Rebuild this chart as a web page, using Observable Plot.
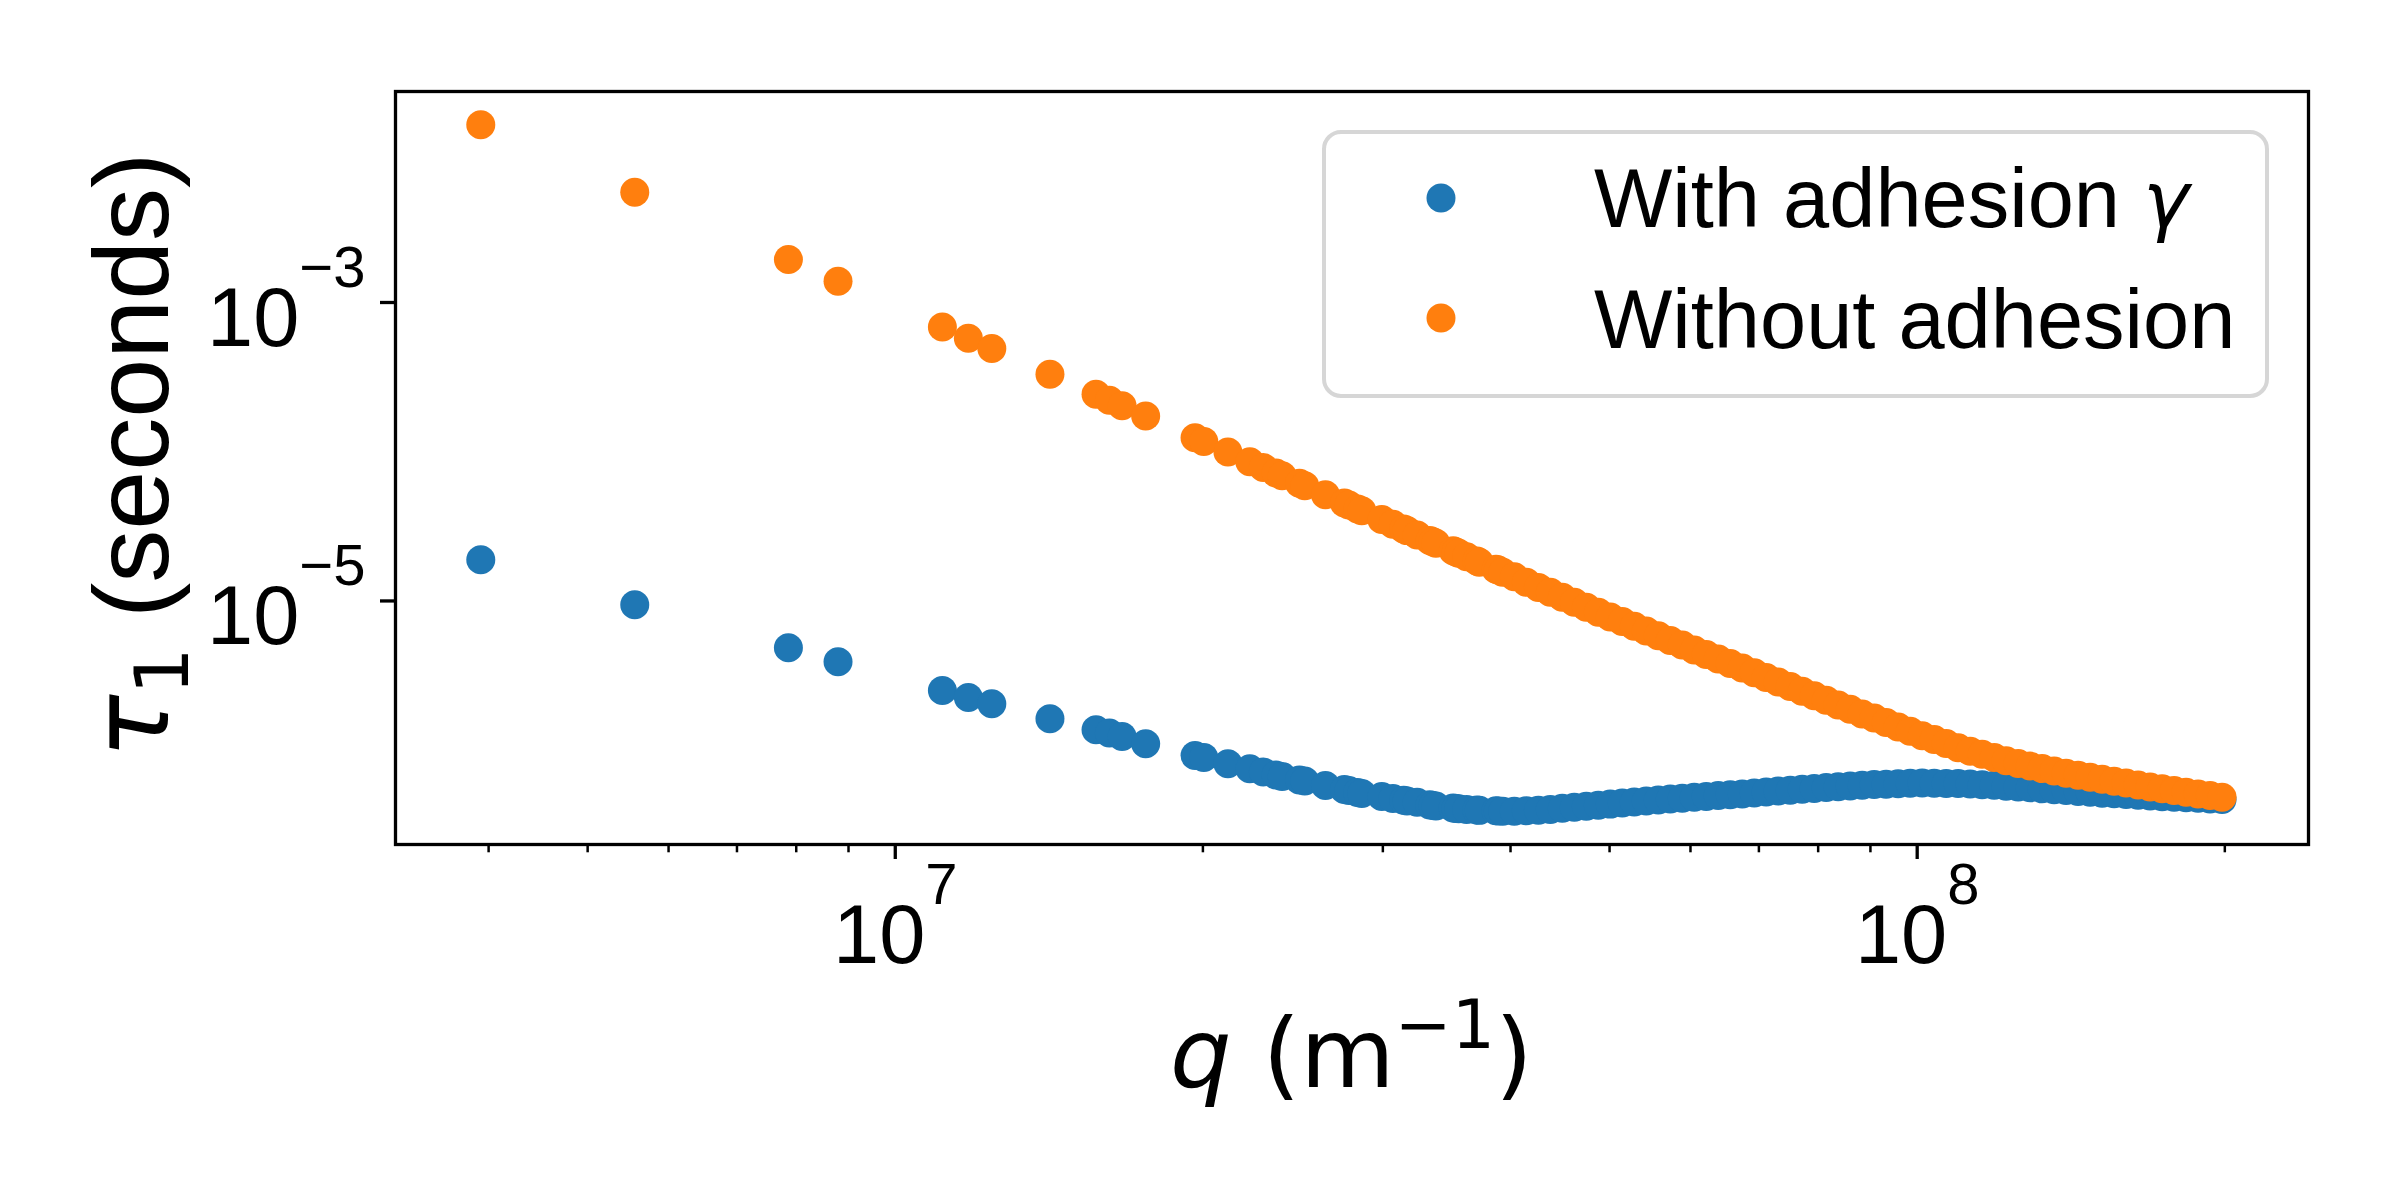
<!DOCTYPE html>
<html>
<head>
<meta charset="utf-8">
<script src="https://cdn.jsdelivr.net/npm/d3@7"></script>
<script src="https://cdn.jsdelivr.net/npm/@observablehq/plot@0.6"></script>
<style>
  html, body { margin: 0; padding: 0; background: #ffffff; }
  svg { display: block; }
</style>
</head>
<body>
<div id="chart"></div>
<script>
// ---- data (q in units of 1e6 m^-1, tau in seconds) ----
const qMega = [3.93, 5.56, 7.86, 8.79, 11.12, 11.79, 12.43, 14.17, 15.72, 16.20, 16.67, 17.58, 19.65, 20.04, 21.16, 22.23, 22.92, 23.58, 23.91, 24.86, 25.16, 26.36, 27.51, 27.79, 28.34, 28.61, 29.93, 30.69, 31.44, 31.68, 32.41, 33.35, 33.58, 33.81, 35.15, 35.37, 35.59, 36.23, 37.08, 37.28, 38.71, 38.91, 39.30,
  40.34, 41.45, 42.59, 43.75, 44.95, 46.18, 47.45, 48.75, 50.08, 51.45, 52.86, 54.31, 55.80, 57.33, 58.90, 60.51, 62.17, 63.87, 65.62, 67.42, 69.27, 71.16, 73.11, 75.12, 77.17, 79.29, 81.46, 83.69, 85.98, 88.34, 90.76, 93.24, 95.80, 98.43, 101.13, 103.90, 106.75, 109.67, 112.68, 115.76, 118.94, 122.19, 125.55, 128.99, 132.52, 136.15, 139.88, 143.71, 147.65, 151.70, 155.85, 160.12, 164.51, 169.01, 173.65, 178.40, 183.29, 188.31, 193.46, 198.76];

const tauWith = [1.888e-5, 9.43e-6, 4.86e-6, 3.91e-6, 2.514e-6, 2.257e-6, 2.048e-6, 1.627e-6, 1.369e-6, 1.302e-6, 1.236e-6, 1.104e-6, 9.22e-7, 8.94e-7, 8.11e-7, 7.51e-7, 7.15e-7, 6.83e-7, 6.67e-7, 6.32e-7, 6.22e-7, 5.80e-7, 5.46e-7, 5.37e-7, 5.21e-7, 5.13e-7, 4.90e-7, 4.75e-7, 4.61e-7, 4.57e-7, 4.47e-7, 4.30e-7, 4.26e-7, 4.23e-7, 4.10e-7, 4.07e-7, 4.05e-7, 4.01e-7, 3.97e-7, 3.95e-7, 3.92e-7, 3.91e-7, 3.90e-7,
  3.90e-7, 3.92e-7, 3.96e-7, 4.01e-7, 4.08e-7, 4.14e-7, 4.21e-7, 4.28e-7, 4.35e-7, 4.42e-7,
  4.50e-7, 4.57e-7, 4.63e-7, 4.70e-7, 4.77e-7, 4.84e-7, 4.90e-7, 4.96e-7, 5.03e-7, 5.09e-7,
  5.17e-7, 5.24e-7, 5.32e-7, 5.39e-7, 5.47e-7, 5.54e-7, 5.63e-7, 5.69e-7, 5.76e-7, 5.82e-7,
  5.89e-7, 5.92e-7, 5.96e-7, 6.00e-7, 6.03e-7, 6.01e-7, 5.99e-7, 5.97e-7, 5.94e-7, 5.87e-7,
  5.81e-7, 5.73e-7, 5.66e-7, 5.59e-7, 5.51e-7, 5.43e-7, 5.37e-7, 5.29e-7, 5.23e-7, 5.15e-7,
  5.10e-7, 5.05e-7, 4.98e-7, 4.93e-7, 4.88e-7, 4.84e-7, 4.80e-7, 4.76e-7, 4.71e-7, 4.67e-7];

const tauWithout = [1.552e-2, 5.49e-3, 1.94e-3, 1.388e-3, 6.86e-4, 5.75e-4, 4.91e-4, 3.31e-4, 2.425e-4, 2.214e-4,
  2.033e-4, 1.736e-4, 1.241e-4, 1.171e-4, 9.94e-5, 8.58e-5, 7.83e-5, 7.19e-5, 6.90e-5, 6.14e-5,
  5.91e-5, 5.14e-5, 4.53e-5, 4.39e-5, 4.14e-5, 4.02e-5, 3.51e-5, 3.26e-5, 3.03e-5, 2.96e-5,
  2.77e-5, 2.54e-5, 2.49e-5, 2.44e-5, 2.17e-5, 2.13e-5, 2.09e-5, 1.98e-5, 1.85e-5, 1.82e-5,
  1.63e-5, 1.61e-5, 1.56e-5,
  1.450e-5, 1.335e-5, 1.233e-5, 1.144e-5, 1.059e-5, 9.80e-6, 9.09e-6, 8.41e-6, 7.82e-6, 7.28e-6,
  6.76e-6, 6.29e-6, 5.85e-6, 5.44e-6, 5.06e-6, 4.70e-6, 4.38e-6, 4.09e-6, 3.81e-6, 3.55e-6,
  3.30e-6, 3.07e-6, 2.86e-6, 2.67e-6, 2.48e-6, 2.32e-6, 2.16e-6, 2.01e-6, 1.88e-6, 1.75e-6,
  1.64e-6, 1.53e-6, 1.43e-6, 1.34e-6, 1.25e-6, 1.18e-6, 1.11e-6, 1.04e-6, 9.85e-7, 9.38e-7,
  8.93e-7, 8.50e-7, 8.14e-7, 7.83e-7, 7.53e-7, 7.25e-7, 7.01e-7, 6.78e-7, 6.58e-7, 6.38e-7,
  6.18e-7, 6.02e-7, 5.84e-7, 5.67e-7, 5.52e-7, 5.37e-7, 5.23e-7, 5.09e-7, 4.96e-7, 4.84e-7];

const seriesLabels = ["With adhesion γ", "Without adhesion"];
const seriesColors = ["#1f77b4", "#ff7f0e"];
const xMajorTicks = [1e7, 1e8];
const xMinorTicks = [4e6, 5e6, 6e6, 7e6, 8e6, 9e6, 2e7, 3e7, 4e7, 5e7, 6e7, 7e7, 8e7, 9e7, 2e8];
const yMajorTicks = [1e-5, 1e-3];

// ---- tables ----
const withRows = qMega.map((v, i) => ({q: v * 1e6, tau: tauWith[i]}));
const withoutRows = qMega.map((v, i) => ({q: v * 1e6, tau: tauWithout[i]}));
const expLabel = d => "10^" + Math.round(Math.log10(d));

// ---- layout ----
const W = 2400, H = 1200;
const mL = 395, mR = 92, mT = 91, mB = 356;
const plotW = W - mL - mR, plotH = H - mT - mB;
const SANS = "'Liberation Sans', Arial, Helvetica, sans-serif";
const MATH = "'DejaVu Sans', sans-serif";

const chart = Plot.plot({
  width: W, height: H,
  marginLeft: mL, marginRight: mR, marginTop: mT, marginBottom: mB,
  style: {background: "white", overflow: "visible"},
  x: {type: "log", domain: [3.243e6, 2.415e8], axis: null},
  y: {type: "log", domain: [2.333e-7, 2.594e-2], axis: null},
  marks: [
    Plot.dot(withRows, {x: "q", y: "tau", r: 14.5, fill: seriesColors[0], stroke: "none"}),
    Plot.dot(withoutRows, {x: "q", y: "tau", r: 14.5, fill: seriesColors[1], stroke: "none"}),
    Plot.tickX(xMinorTicks, {x: d => d, insetTop: plotH, insetBottom: -8.3, stroke: "black", strokeWidth: 2.5}),
    Plot.tickX(xMajorTicks, {x: d => d, insetTop: plotH, insetBottom: -15, stroke: "black", strokeWidth: 3.3}),
    Plot.tickY(yMajorTicks, {y: d => d, insetLeft: -15, insetRight: plotW, stroke: "black", strokeWidth: 3.3}),
    Plot.frame({stroke: "black", strokeWidth: 3.3}),
    Plot.text(xMajorTicks, {x: d => d, text: expLabel, frameAnchor: "bottom", lineAnchor: "bottom", dy: 118,
      textAnchor: "middle", fontSize: 83, fontFamily: SANS, fill: "black"}),
    Plot.text(yMajorTicks, {y: d => d, text: expLabel, frameAnchor: "left", lineAnchor: "bottom", dx: -30, dy: 43,
      textAnchor: "end", fontSize: 83, fontFamily: SANS, fill: "black"})
  ]
});

// superscripts for the tick labels
const NS = "http://www.w3.org/2000/svg";
chart.querySelectorAll("text").forEach(t => {
  const m = /^10\^(-?\d+)$/.exec(t.textContent);
  if (!m) return;
  t.textContent = "";
  const base = document.createElementNS(NS, "tspan");
  base.textContent = "10";
  const sup = document.createElementNS(NS, "tspan");
  sup.setAttribute("dy", "-59");
  sup.setAttribute("font-size", "58");
  sup.textContent = m[1].replace("-", "\u2212");
  t.append(base, sup);
});

const svg = d3.select(chart);

// x label: q (m^-1)
const xl = svg.append("text")
  .attr("x", mL + plotW / 2).attr("y", 1087)
  .attr("text-anchor", "middle").attr("font-family", MATH).attr("font-size", 97).attr("fill", "black");
xl.append("tspan").attr("font-style", "italic").text("q");
xl.append("tspan").text(" (m");
xl.append("tspan").attr("dy", -39).attr("font-size", 68).text("\u22121");
xl.append("tspan").attr("dy", 39).text(")");

// y label: tau_1 (seconds)
const yl = svg.append("text")
  .attr("transform", `translate(168,${mT + plotH / 2 - 12}) rotate(-90)`)
  .attr("text-anchor", "middle").attr("font-size", 106).attr("fill", "black");
yl.append("tspan").attr("font-family", MATH).attr("font-style", "italic").text("τ");
yl.append("tspan").attr("font-family", MATH).attr("font-size", 74).attr("dy", 20).text("1");
yl.append("tspan").attr("font-family", SANS).attr("dy", -20).text(" (seconds)");

// legend
const lg = svg.append("g");
lg.append("rect")
  .attr("x", 1324).attr("y", 132).attr("width", 943).attr("height", 264).attr("rx", 17)
  .attr("fill", "white").attr("fill-opacity", 0.8)
  .attr("stroke", "#cccccc").attr("stroke-opacity", 0.8).attr("stroke-width", 4);
seriesLabels.forEach((s, i) => {
  lg.append("circle").attr("cx", 1441).attr("cy", 198 + 120 * i).attr("r", 14.5).attr("fill", seriesColors[i]);
  const t = lg.append("text").attr("x", 1594).attr("y", 227 + 121 * i)
    .attr("text-anchor", "start")
    .attr("font-family", SANS).attr("font-size", 83).attr("fill", "black");
  if (s.endsWith("γ")) {
    t.append("tspan").text(s.slice(0, -1));
    t.append("tspan").attr("font-family", MATH).attr("font-style", "italic").attr("font-size", 78).text("γ");
  } else {
    t.text(s);
  }
});

document.getElementById("chart").appendChild(chart);
</script>
</body>
</html>
